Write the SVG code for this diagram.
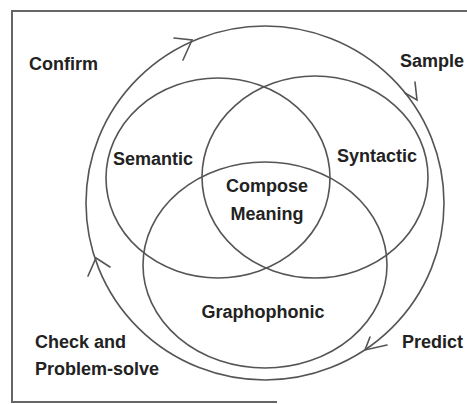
<svg xmlns="http://www.w3.org/2000/svg" width="467" height="404" viewBox="0 0 467 404">
<style>
.c{fill:none;stroke:#555;stroke-width:1.6}
.a{fill:none;stroke:#555;stroke-width:1.6;stroke-linecap:round}
.b{fill:none;stroke:#666;stroke-width:2}
text{font-family:"Liberation Sans",Arial,sans-serif;font-weight:bold;font-size:18px;fill:#222}
</style>
<rect width="467" height="404" fill="#fff"/>
<g id="frame">
<path class="b" d="M467 11 H12 V402 H277"/>
</g>
<g id="connectors">
<ellipse class="c" cx="265" cy="203" rx="179" ry="177"/>
<path class="a" d="M174 38 L192 40 L183 60"/>
<path class="a" d="M405 93 L417 100 L415 82"/>
<path class="a" d="M387 345 L365 350 L370 337"/>
<path class="a" d="M88 276 L96 258 L110 267"/>
</g>
<g id="semantic"><ellipse class="c" cx="218" cy="178" rx="112" ry="100"/><text x="113" y="165">Semantic</text></g>
<g id="syntactic"><ellipse class="c" cx="315" cy="177" rx="113" ry="101"/><text x="337" y="162">Syntactic</text></g>
<g id="graphophonic"><ellipse class="c" cx="265" cy="265" rx="122" ry="103"/><text x="263" y="318" text-anchor="middle">Graphophonic</text></g>
<g id="compose"><text x="267" y="192" text-anchor="middle">Compose</text><text x="267" y="220" text-anchor="middle">Meaning</text></g>
<g id="confirm"><text x="29" y="70">Confirm</text></g>
<g id="sample"><text x="400" y="67">Sample</text></g>
<g id="predict"><text x="402" y="348">Predict</text></g>
<g id="check"><text x="35" y="348">Check and</text><text x="35" y="375">Problem-solve</text></g>
</svg>
